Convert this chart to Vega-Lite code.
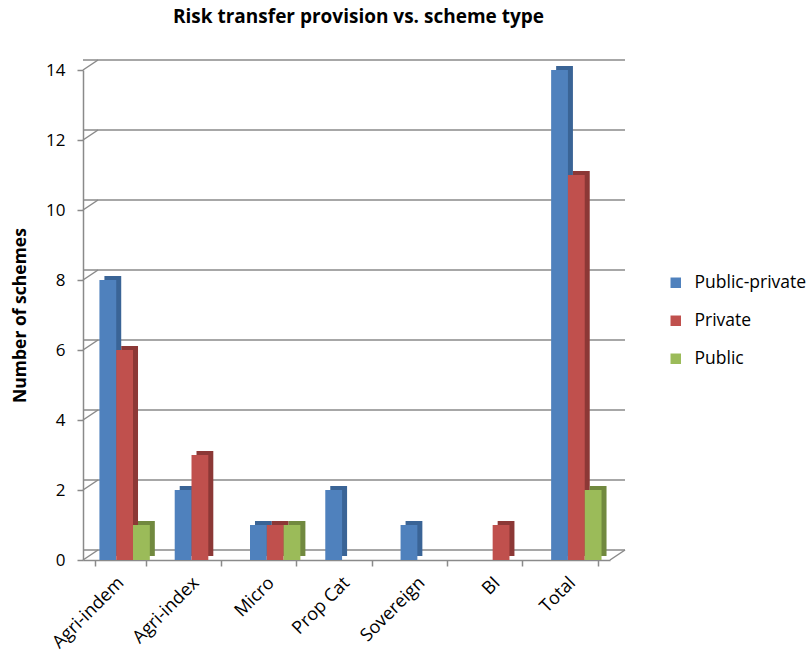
{
  "$schema": "https://vega.github.io/schema/vega-lite/v6.json",
  "autosize": "none",
  "width": 527,
  "height": 490,
  "padding": {"left": 83, "top": 70, "right": 201, "bottom": 92},
  "background": "white",
  "config": {
    "font": "Open Sans",
    "view": {"stroke": null},
    "axis": {"labelColor": "black", "titleColor": "black", "domainColor": "#8a8a8a", "tickColor": "#8a8a8a", "domainWidth": 1.5, "tickWidth": 1.5, "tickSize": 6, "grid": false}
  },
  "title": {"text": "Risk transfer provision vs. scheme type", "fontSize": 19, "fontWeight": "bold", "font": "Open Sans", "color": "black", "offset": 32, "dx": 12},
  "datasets": {
    "bars": [
      {"type": "Agri-indem", "series": "Public-private", "n": 8},
      {"type": "Agri-indem", "series": "Private", "n": 6},
      {"type": "Agri-indem", "series": "Public", "n": 1},
      {"type": "Agri-index", "series": "Public-private", "n": 2},
      {"type": "Agri-index", "series": "Private", "n": 3},
      {"type": "Agri-index", "series": "Public", "n": 0},
      {"type": "Micro", "series": "Public-private", "n": 1},
      {"type": "Micro", "series": "Private", "n": 1},
      {"type": "Micro", "series": "Public", "n": 1},
      {"type": "Prop Cat", "series": "Public-private", "n": 2},
      {"type": "Prop Cat", "series": "Private", "n": 0},
      {"type": "Prop Cat", "series": "Public", "n": 0},
      {"type": "Sovereign", "series": "Public-private", "n": 1},
      {"type": "Sovereign", "series": "Private", "n": 0},
      {"type": "Sovereign", "series": "Public", "n": 0},
      {"type": "BI", "series": "Public-private", "n": 0},
      {"type": "BI", "series": "Private", "n": 1},
      {"type": "BI", "series": "Public", "n": 0},
      {"type": "Total", "series": "Public-private", "n": 14},
      {"type": "Total", "series": "Private", "n": 11},
      {"type": "Total", "series": "Public", "n": 2}
    ],
    "grid": [{"v": 0}, {"v": 2}, {"v": 4}, {"v": 6}, {"v": 8}, {"v": 10}, {"v": 12}, {"v": 14}]
  },
  "layer": [
    {
      "data": {"name": "grid"},
      "mark": {"type": "rule", "color": "#8a8a8a", "strokeWidth": 1.5, "xOffset": 15, "yOffset": -10},
      "encoding": {"y": {"field": "v", "type": "quantitative", "scale": {"domain": [0, 14]}, "title": "Number of schemes",
          "axis": {"values": [0, 2, 4, 6, 8, 10, 12, 14], "labelFontSize": 17, "labelPadding": 12, "titleFontSize": 17.5, "titleFontWeight": "bold", "titlePadding": 16}}}
    },
    {
      "data": {"name": "grid"},
      "mark": {"type": "rule", "color": "#8a8a8a", "strokeWidth": 1.5, "y2Offset": -10},
      "encoding": {
        "x": {"value": 0},
        "x2": {"value": 15},
        "y": {"field": "v", "type": "quantitative", "title": "Number of schemes"},
        "y2": {"field": "v"}
      }
    },
    {
      "data": {"values": [{"v": 0}]},
      "mark": {"type": "rule", "color": "#8a8a8a", "strokeWidth": 1.5, "y2Offset": -10},
      "encoding": {
        "x": {"value": 527},
        "x2": {"value": 542},
        "y": {"field": "v", "type": "quantitative", "title": "Number of schemes"},
        "y2": {"field": "v"}
      }
    },
    {
      "data": {"name": "bars"},
      "mark": {"type": "bar", "yOffset": -4},
      "encoding": {
        "x": {"field": "type", "type": "nominal", "sort": null, "title": null, "scale": {"paddingInner": 0.33, "paddingOuter": 0.165}},
        "xOffset": {"field": "series", "sort": ["Public-private", "Private", "Public"], "scale": {"range": [9, 59.4]}},
        "y": {"field": "n", "type": "quantitative", "title": "Number of schemes"},
        "color": {"field": "series", "type": "nominal", "scale": {"domain": ["Public-private", "Private", "Public"], "range": ["#3A6496", "#8C3836", "#71893F"]}, "legend": null}
      }
    },
    {
      "data": {"name": "bars"},
      "mark": {"type": "bar"},
      "encoding": {
        "x": {"field": "type", "type": "nominal", "sort": null, "title": null,
          "axis": {"labelAngle": -45, "labelAlign": "right", "labelBaseline": "middle", "labelFontSize": 18, "labelPadding": 14, "tickBand": "extent"}},
        "xOffset": {"field": "series", "sort": ["Public-private", "Private", "Public"], "scale": {"range": [4, 54.4]}},
        "y": {"field": "n", "type": "quantitative", "title": "Number of schemes"},
        "color": {"field": "series", "type": "nominal", "scale": {"domain": ["Public-private", "Private", "Public"], "range": ["#4F81BD", "#C0504D", "#9BBB59"]},
          "legend": {"title": null, "orient": "none", "legendX": 584, "legendY": 204, "symbolType": "square", "symbolSize": 110, "symbolStrokeWidth": 0, "labelFontSize": 17.5, "labelColor": "black", "rowPadding": 19, "labelOffset": 10}}
      }
    }
  ],
  "resolve": {"scale": {"color": "independent", "xOffset": "independent"}}
}
